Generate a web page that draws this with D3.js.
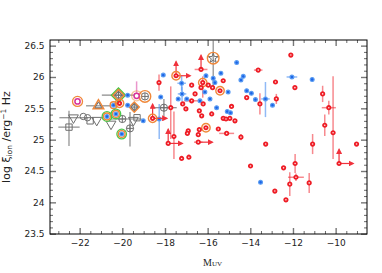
<!DOCTYPE html>
<html>
<head>
<meta charset="utf-8">
<script src="https://cdn.jsdelivr.net/npm/d3@7"></script>
<style>
  body { margin: 0; background: #fff; }
  text { font-family: "DejaVu Sans", sans-serif; }
</style>
</head>
<body>
<div id="chart"></div>
<script>
// tick values
var xTicks = [-22, -20, -18, -16, -14, -12, -10];
var yTicks = [23.5, 24, 24.5, 25, 25.5, 26, 26.5];

// individual faint sources (red): [M_UV, log xi_ion, xErr, yErrLow, yErrHigh, flags]
// flags: u = lower limit (arrow up), r = arrow right, o = orange ring
var redPts = [
  [-13.63, 26.11, 0.2, 0, 0, ""],
  [-16.31, 26.12, 0.3, 0, 0, "u"],
  [-17.48, 26.02, 0, 0, 0, "uro"],
  [-18.28, 25.91, 0, 0.13, 0.13, ""],
  [-16.75, 25.87, 0, 0, 0, ""],
  [-16.23, 25.91, 0, 0.24, 0.10, "o"],
  [-15.27, 25.94, 0, 0, 0, ""],
  [-16.31, 25.83, 0, 0, 0, ""],
  [-15.77, 25.83, 0, 0, 0, ""],
  [-15.42, 25.78, 0, 0, 0, "o"],
  [-16.75, 25.62, 0.35, 0, 0, ""],
  [-16.59, 25.73, 0, 0, 0, ""],
  [-14.17, 25.67, 0, 0, 0, ""],
  [-13.55, 25.57, 0, 0.17, 0.17, ""],
  [-16.21, 25.57, 0, 0, 0, ""],
  [-17.17, 25.57, 0, 0, 0, ""],
  [-17.02, 25.49, 0, 0, 0, ""],
  [-14.88, 25.53, 0, 0, 0, ""],
  [-16.39, 25.46, 0, 0, 0, ""],
  [-15.81, 25.41, 0, 0, 0, ""],
  [-16.28, 25.38, 0, 0, 0, ""],
  [-17.73, 25.51, 0, 0.50, 0.34, ""],
  [-18.58, 25.34, 0, 0, 0, "uro"],
  [-15.27, 25.34, 0, 0, 0, ""],
  [-15.14, 25.33, 0, 0, 0, ""],
  [-14.96, 25.34, 0, 0, 0, ""],
  [-14.72, 25.30, 0, 0, 0, ""],
  [-16.08, 25.19, 0, 0, 0, "o"],
  [-15.50, 25.17, 0, 0, 0, ""],
  [-16.39, 25.16, 0, 0, 0, ""],
  [-16.91, 25.14, 0, 0, 0, ""],
  [-16.95, 25.10, 0, 0, 0, ""],
  [-16.44, 25.08, 0, 0, 0, ""],
  [-15.11, 25.10, 0.35, 0, 0, ""],
  [-14.44, 25.04, 0, 0.05, 0.05, ""],
  [-17.58, 25.05, 0, 0.36, 0.40, ""],
  [-17.85, 24.94, 0, 0, 0, "ur"],
  [-16.44, 24.96, 0.2, 0, 0, "r"],
  [-17.22, 24.70, 0, 0, 0, ""],
  [-16.88, 24.72, 0, 0, 0, ""],
  [-12.10, 26.35, 0, 0, 0, ""],
  [-12.82, 25.92, 0, 0, 0, ""],
  [-11.91, 25.83, 0, 0, 0, ""],
  [-12.78, 25.65, 0, 0.08, 0.08, ""],
  [-10.61, 25.73, 0, 0.13, 0.13, ""],
  [-10.32, 25.51, 0.33, 0.11, 0.11, ""],
  [-10.51, 25.23, 0, 0.17, 0.17, ""],
  [-10.12, 25.11, 0, 0.42, 0.90, ""],
  [-13.28, 24.93, 0, 0, 0, ""],
  [-11.08, 24.93, 0, 0.16, 0.16, ""],
  [-9.02, 24.93, 0, 0, 0, ""],
  [-9.84, 24.62, 0, 0, 0, "ur"],
  [-13.99, 24.58, 0, 0, 0, ""],
  [-11.90, 24.62, 0, 0.15, 0.15, ""],
  [-12.44, 24.55, 0, 0, 0, ""],
  [-11.86, 24.40, 0.37, 0.06, 0.06, ""],
  [-12.15, 24.29, 0, 0.19, 0.19, ""],
  [-11.24, 24.31, 0, 0.16, 0.16, ""],
  [-12.85, 24.18, 0, 0, 0, ""],
  [-12.33, 24.04, 0, 0, 0, ""],
  [-15.97, 25.87, 0, 0, 0, ""],
  [-20.13, 25.58, 0, 0, 0, "o"]
];

// blue sample: [M_UV, log xi_ion, xErr, yErrLow, yErrHigh, flags] (o = orange ring, g = green ring)
var bluePts = [
  [-14.64, 26.23, 0, 0, 0, ""],
  [-18.08, 26.03, 0, 0, 0, ""],
  [-16.08, 26.02, 0, 0, 0, ""],
  [-15.38, 26.06, 0, 0, 0, ""],
  [-15.74, 25.98, 0, 0, 0, ""],
  [-14.33, 26.01, 0, 0, 0, ""],
  [-14.44, 25.95, 0, 0, 0, ""],
  [-17.22, 25.90, 0.2, 0.12, 0.12, ""],
  [-17.20, 25.73, 0.2, 0.12, 0.12, ""],
  [-17.38, 25.65, 0, 0, 0, ""],
  [-16.98, 25.65, 0, 0, 0, ""],
  [-16.13, 25.76, 0, 0, 0, ""],
  [-16.36, 25.62, 0, 0, 0, ""],
  [-15.89, 25.65, 0, 0, 0, ""],
  [-15.04, 25.76, 0, 0, 0, ""],
  [-14.17, 25.78, 0, 0, 0, ""],
  [-13.95, 25.74, 0, 0, 0, ""],
  [-13.76, 25.64, 0, 0, 0, ""],
  [-13.29, 25.65, 0.2, 0.29, 0.27, ""],
  [-12.96, 25.55, 0, 0, 0, ""],
  [-15.58, 25.51, 0, 0, 0, ""],
  [-15.08, 25.45, 0, 0, 0, ""],
  [-14.93, 25.43, 0, 0, 0, ""],
  [-18.27, 25.33, 0, 0.32, 0.24, ""],
  [-19.02, 25.30, 0, 0, 0, ""],
  [-18.20, 25.68, 0, 0, 0, ""],
  [-12.05, 26.00, 0.25, 0, 0, ""],
  [-11.10, 25.96, 0, 0, 0, ""],
  [-13.52, 24.32, 0, 0, 0, ""],
  [-19.75, 25.71, 0, 0, 0, ""],
  [-19.75, 25.55, 0, 0, 0, ""],
  [-15.66, 25.91, 0, 0, 0, ""],
  [-20.41, 25.55, 0, 0, 0, "o"],
  [-20.72, 25.37, 0, 0, 0, "og"],
  [-20.30, 25.41, 0, 0, 0, "og"],
  [-20.03, 25.09, 0, 0, 0, "og"]
];

// literature stacks (grey): [M_UV, log xi_ion, shape, xErr, yErrLow, yErrHigh, flags]
var grayPts = [
  [-22.50, 25.20, "square", 0.5, 0.30, 0.26, ""],
  [-22.29, 25.35, "tridown", 0.66, 0, 0, ""],
  [-21.83, 25.37, "circle", 0, 0, 0, ""],
  [-21.63, 25.35, "circle", 0, 0, 0, ""],
  [-21.51, 25.30, "square", 0, 0, 0, ""],
  [-21.20, 25.31, "tridown", 0, 0, 0, ""],
  [-20.53, 25.25, "tridown", 0, 0, 0, ""],
  [-20.00, 25.33, "circleplus", 0.9, 0, 0, ""],
  [-19.64, 25.18, "circleplus", 0, 0.29, 0.26, ""],
  [-19.48, 25.31, "tridown", 0, 0, 0, ""],
  [-19.31, 25.35, "square", 0, 0, 0, ""],
  [-18.05, 25.51, "circleplus", 0.6, 0.14, 0.14, ""],
  [-15.74, 26.30, "star", 0, 0.50, 0.30, "o"],
  [-18.94, 25.69, "circleplus", 0, 0, 0, "o"],
  [-19.44, 25.52, "diamondplus", 0, 0, 0, "O"],
  [-20.18, 25.71, "diamondplus", 0.78, 0, 0, "OG"],
  [-21.12, 25.54, "triup", 0.58, 0, 0, "O"]
];

// magenta sources: [M_UV, log xi_ion, yErrHigh, flags]
var magPts = [
  [-22.10, 25.61, 0, "o"],
  [-19.33, 25.70, 0.23, ""]
];

var W = 382, H = 273;
var margin = {top: 40, right: 15, bottom: 39, left: 50};
var width = W - margin.left - margin.right,
    height = H - margin.top - margin.bottom;

var x = d3.scaleLinear().domain([-23.39, -8.53]).range([0, width]);
var y = d3.scaleLinear().domain([23.495, 26.59]).range([height, 0]);

var svg = d3.select("#chart").append("svg")
    .attr("width", W)
    .attr("height", H);

var g = svg.append("g")
    .attr("transform", "translate(" + margin.left + "," + margin.top + ")");

var defs = svg.append("defs");
defs.append("clipPath").attr("id", "clip")
  .append("rect").attr("width", width).attr("height", height);
defs.append("marker")
    .attr("id", "arrRed")
    .attr("viewBox", "0 0 8 8")
    .attr("refX", 6).attr("refY", 4)
    .attr("markerWidth", 5).attr("markerHeight", 5)
    .attr("orient", "auto")
  .append("path")
    .attr("d", "M0,0L8,4L0,8z")
    .attr("fill", "#f0323c");

var xMinor = d3.range(-23, -8.6, 0.5).filter(function(v) { return xTicks.indexOf(v) < 0; });
var yMinor = d3.range(235, 266, 1).map(function(v) { return v / 10; })
    .filter(function(v) { return yTicks.indexOf(v) < 0; });

// axes, ticks pointing in on all four sides
function tickStyle(sel, col, w) {
  sel.select(".domain").remove();
  sel.selectAll(".tick line").attr("stroke", col).attr("stroke-width", w);
  sel.selectAll("text").style("font-size", "9px").style("font-family", "'DejaVu Sans', sans-serif").attr("fill", "#222");
}

g.append("g").attr("transform", "translate(0," + height + ")")
  .call(d3.axisBottom(x).tickValues(xTicks).tickSize(-6).tickPadding(5.6).tickFormat(d3.format("d")))
  .call(tickStyle, "#777", 1.4);
g.append("g").attr("transform", "translate(0," + height + ")")
  .call(d3.axisBottom(x).tickValues(xMinor).tickSize(-3).tickFormat(""))
  .call(tickStyle, "#444", 0.8);
g.append("g")
  .call(d3.axisTop(x).tickValues(xTicks).tickSize(-6).tickFormat(""))
  .call(tickStyle, "#777", 1.4);
g.append("g")
  .call(d3.axisTop(x).tickValues(xMinor).tickSize(-3).tickFormat(""))
  .call(tickStyle, "#444", 0.8);

g.append("g")
  .call(d3.axisLeft(y).tickValues(yTicks).tickSize(-6).tickPadding(5.5).tickFormat(function(d) { return String(d); }))
  .call(tickStyle, "#777", 1.4);
g.append("g")
  .call(d3.axisLeft(y).tickValues(yMinor).tickSize(-3).tickFormat(""))
  .call(tickStyle, "#444", 0.8);
g.append("g").attr("transform", "translate(" + width + ",0)")
  .call(d3.axisRight(y).tickValues(yTicks).tickSize(-6).tickFormat(""))
  .call(tickStyle, "#777", 1.4);
g.append("g").attr("transform", "translate(" + width + ",0)")
  .call(d3.axisRight(y).tickValues(yMinor).tickSize(-3).tickFormat(""))
  .call(tickStyle, "#444", 0.8);

g.append("rect")
  .attr("width", width).attr("height", height)
  .attr("fill", "none").attr("stroke", "#000").attr("stroke-width", 1);

var plot = g.append("g").attr("clip-path", "url(#clip)");

// error bars
function errBars(layer, pts, col, w, xi, yl, yh) {
  pts.forEach(function(p) {
    if (p[xi] > 0) {
      layer.append("line")
        .attr("x1", x(p[0] - p[xi])).attr("x2", x(p[0] + p[xi]))
        .attr("y1", y(p[1])).attr("y2", y(p[1]))
        .attr("stroke", col).attr("stroke-width", w);
    }
    if (p[yl] > 0 || p[yh] > 0) {
      layer.append("line")
        .attr("x1", x(p[0])).attr("x2", x(p[0]))
        .attr("y1", y(p[1] - p[yl])).attr("y2", y(p[1] + p[yh]))
        .attr("stroke", col).attr("stroke-width", w);
    }
  });
}

var errLayer = plot.append("g");
errBars(errLayer, grayPts, "rgba(100,100,100,0.75)", 1.2, 3, 4, 5);
errBars(errLayer, bluePts, "rgba(70,140,240,0.6)", 1.5, 2, 3, 4);
errBars(errLayer, redPts, "rgba(240,40,50,0.55)", 1.5, 2, 3, 4);

// magenta error bar
magPts.forEach(function(p) {
  if (p[2] > 0) {
    errLayer.append("line")
      .attr("x1", x(p[0])).attr("x2", x(p[0]))
      .attr("y1", y(p[1])).attr("y2", y(p[1] + p[2]))
      .attr("stroke", "rgba(220,80,170,0.6)").attr("stroke-width", 1.5);
  }
});

// grey symbols
var grayCol = "#6e6e6e";
var orange = "#f0883a";
// square turned 45 degrees, so the diamond is as wide as it is tall
var rhomb = function(size) { return d3.symbol().type(d3.symbolSquare).size(size)(); };
var symLayer = plot.append("g");
grayPts.forEach(function(p) {
  var cx = x(p[0]), cy = y(p[1]), shape = p[2], flags = p[6];
  var s = symLayer.append("g").attr("transform", "translate(" + cx + "," + cy + ")");
  var big = flags.indexOf("O") >= 0;
  var green = flags.indexOf("G") >= 0;
  if (green) {
    s.append("path").attr("d", rhomb(100)).attr("transform", "rotate(45)")
      .attr("fill", "none").attr("stroke", "#46c646").attr("stroke-width", 1.4);
  }
  if (shape == "square") {
    s.append("path").attr("d", d3.symbol().type(d3.symbolSquare).size(40)())
      .attr("fill", "none").attr("stroke", grayCol).attr("stroke-width", 1);
  } else if (shape == "tridown" || shape == "triup") {
    s.append("path").attr("d", d3.symbol().type(d3.symbolTriangle).size(big ? 48 : 42)())
      .attr("transform", shape == "tridown" ? "rotate(180)" : null)
      .attr("fill", "none").attr("stroke", big ? orange : grayCol).attr("stroke-width", big ? 1.5 : 1);
    if (big) {
      s.append("path").attr("d", d3.symbol().type(d3.symbolTriangle).size(20)())
        .attr("fill", "none").attr("stroke", grayCol).attr("stroke-width", 1);
    }
  } else if (shape == "circle") {
    s.append("circle").attr("r", 3.2)
      .attr("fill", "none").attr("stroke", grayCol).attr("stroke-width", 1);
  } else if (shape == "circleplus") {
    s.append("circle").attr("r", 3.6)
      .attr("fill", "none").attr("stroke", grayCol).attr("stroke-width", 1);
    s.append("path").attr("d", "M-3.6,0H3.6M0,-3.6V3.6")
      .attr("stroke", grayCol).attr("stroke-width", 1);
  } else if (shape == "diamondplus") {
    var sz = green ? 62 : 50;
    s.append("path").attr("d", rhomb(sz)).attr("transform", "rotate(45)")
      .attr("fill", "none").attr("stroke", orange).attr("stroke-width", 1.5);
    s.append("path").attr("d", rhomb(sz * 0.45)).attr("transform", "rotate(45)")
      .attr("fill", "none").attr("stroke", grayCol).attr("stroke-width", 1);
    var h = Math.sqrt(sz * 0.45 / 2);
    s.append("path").attr("d", "M" + (-h) + ",0H" + h + "M0," + (-h) + "V" + h)
      .attr("stroke", grayCol).attr("stroke-width", 1);
  } else if (shape == "star") {
    s.append("path").attr("d", d3.symbol().type(d3.symbolStar).size(30)())
      .attr("fill", "none").attr("stroke", grayCol).attr("stroke-width", 1);
  }
  if (flags.indexOf("o") >= 0) {
    s.append("circle").attr("r", 5.8)
      .attr("fill", "none").attr("stroke", orange).attr("stroke-width", 1.4);
  }
});

// magenta rings
plot.append("g").selectAll("g")
  .data(magPts)
  .enter().append("g")
    .attr("transform", function(d) { return "translate(" + x(d[0]) + "," + y(d[1]) + ")"; })
    .each(function(d) {
      var s = d3.select(this);
      s.append("circle").attr("r", 2.6).attr("fill", "#fff")
        .attr("stroke", "#d8329a").attr("stroke-width", 1.5);
      s.append("circle").attr("r", 5).attr("fill", "none")
        .attr("stroke", d[3] == "o" ? orange : "rgba(240,136,58,0.5)").attr("stroke-width", 1.3);
    });

// blue points
var blue = plot.append("g").selectAll("g")
  .data(bluePts)
  .enter().append("g")
    .attr("transform", function(d) { return "translate(" + x(d[0]) + "," + y(d[1]) + ")"; });
blue.filter(function(d) { return d[5].indexOf("g") >= 0; })
  .append("circle").attr("r", 4.8).attr("fill", "#fff")
  .attr("stroke", "#4cc84c").attr("stroke-width", 1.3);
blue.filter(function(d) { return d[5].indexOf("o") >= 0; })
  .append("circle").attr("r", 3.4).attr("fill", "#fff")
  .attr("stroke", orange).attr("stroke-width", 1.4);
blue.append("circle")
  .attr("r", 1.9)
  .attr("fill", "#1c64e6")
  .attr("stroke", "#5a9cf2")
  .attr("stroke-width", 1.2);

// red points with limits
var arrowLen = 14;
var arrows = plot.append("g");
redPts.forEach(function(p) {
  var cx = x(p[0]), cy = y(p[1]);
  if (p[5].indexOf("u") >= 0) {
    arrows.append("line")
      .attr("x1", cx).attr("x2", cx).attr("y1", cy).attr("y2", cy - arrowLen)
      .attr("stroke", "#f0323c").attr("stroke-width", 1.2)
      .attr("marker-end", "url(#arrRed)");
  }
  if (p[5].indexOf("r") >= 0) {
    arrows.append("line")
      .attr("x1", cx).attr("x2", cx + arrowLen).attr("y1", cy).attr("y2", cy)
      .attr("stroke", "#f0323c").attr("stroke-width", 1.2)
      .attr("marker-end", "url(#arrRed)");
  }
});

var red = plot.append("g").selectAll("g")
  .data(redPts)
  .enter().append("g")
    .attr("transform", function(d) { return "translate(" + x(d[0]) + "," + y(d[1]) + ")"; });
red.filter(function(d) { return d[5].indexOf("o") >= 0; })
  .append("circle").attr("r", 4.2).attr("fill", "none")
  .attr("stroke", orange).attr("stroke-width", 1.4);
red.append("circle")
  .attr("r", 1.7)
  .attr("fill", "#fde0e0")
  .attr("stroke", "#ee1c25")
  .attr("stroke-width", 1.8);

// axis titles
var yl = svg.append("text")
  .attr("transform", "translate(9.5," + (margin.top + 97) + ") rotate(-90)")
  .attr("text-anchor", "middle")
  .style("font-size", "11px")
  .attr("fill", "#222");
yl.append("tspan").text("log \u03be");
yl.append("tspan").attr("dy", 2.5).style("font-size", "7.5px").text("ion");
yl.append("tspan").attr("dy", -2.5).text(" /erg");
yl.append("tspan").attr("dy", -4).style("font-size", "7.5px").text("\u22121");
yl.append("tspan").attr("dy", 4).text(" Hz");

var xl = svg.append("text")
  .attr("x", 212.5).attr("y", 265.5)
  .attr("text-anchor", "middle")
  .style("font-family", "'Liberation Serif', serif")
  .style("font-size", "10px")
  .attr("fill", "#222");
xl.append("tspan").text("M");
xl.append("tspan").style("font-size", "7px").text("UV");
</script>
</body>
</html>
